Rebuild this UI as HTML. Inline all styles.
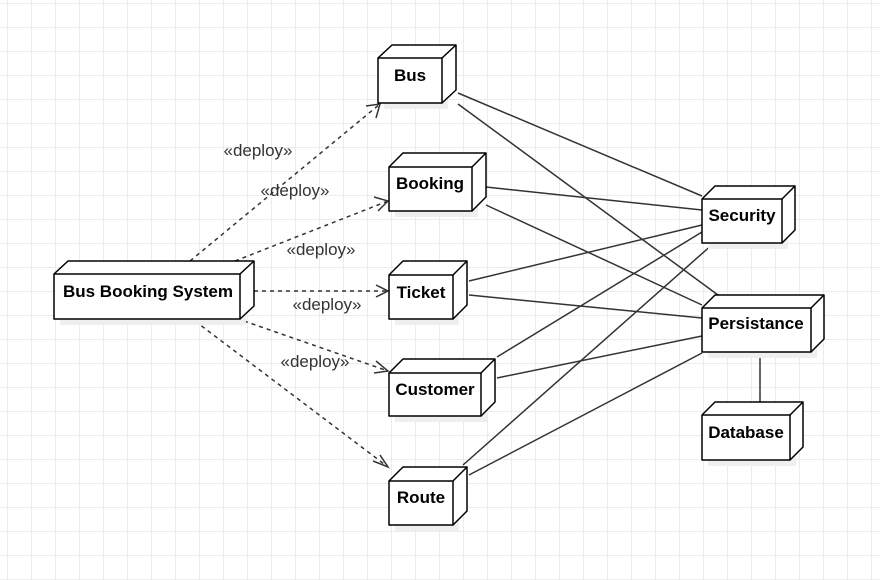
<!DOCTYPE html>
<html><head><meta charset="utf-8"><style>
html,body{margin:0;padding:0;background:#fff}
svg{display:block}
text{font-family:"Liberation Sans",Arial,sans-serif}
</style></head><body>
<svg width="880" height="580" xmlns="http://www.w3.org/2000/svg">
<defs>
<pattern id="g" x="7" y="3" width="24" height="24" patternUnits="userSpaceOnUse">
<path d="M0 0H24M0 0V24" stroke="#e6e6e6" stroke-width="1.5" fill="none"/>
</pattern>
</defs>
<rect width="880" height="580" fill="url(#g)"/>

<g stroke="#333" stroke-width="1.5" fill="none">
<line x1="458" y1="93" x2="702" y2="196"/>
<line x1="458" y1="104" x2="718" y2="295"/>
<line x1="486" y1="187" x2="702" y2="210"/>
<line x1="486" y1="205" x2="702" y2="305"/>
<line x1="469" y1="281" x2="702" y2="225"/>
<line x1="469" y1="295" x2="702" y2="318"/>
<line x1="497" y1="357" x2="702" y2="232"/>
<line x1="497" y1="378" x2="702" y2="336"/>
<line x1="463" y1="465" x2="714" y2="243"/>
<line x1="469" y1="475" x2="702" y2="353"/>
<line x1="760" y1="352" x2="760" y2="402"/>
</g>

<g stroke="#333" stroke-width="1.5" fill="none" stroke-dasharray="4 4">
<line x1="190" y1="261" x2="380" y2="104"/>
<line x1="235" y1="261" x2="388" y2="201"/>
<line x1="254" y1="291" x2="388" y2="291"/>
<line x1="244" y1="321" x2="388" y2="371"/>
<line x1="195" y1="321" x2="388" y2="467"/>
</g>
<g stroke="#333" stroke-width="1.5" fill="none">
<polyline points="366,106 380,104 376,118"/>
<polyline points="374,197 388,201 378,211"/>
<polyline points="376,285 388,291 376,297"/>
<polyline points="376,361 388,371 374,373"/>
<polyline points="373,461 388,467 380,455"/>
</g>
<g font-size="17" fill="#333" text-anchor="middle">
<text x="258" y="156">«deploy»</text>
<text x="295" y="196">«deploy»</text>
<text x="321" y="255">«deploy»</text>
<text x="327" y="310">«deploy»</text>
<text x="315" y="367">«deploy»</text>
</g>

<g stroke="#000" stroke-width="1.5" fill="#fff" stroke-linejoin="round">
<rect x="384" y="64" width="64" height="45" fill="#efefef" stroke="none"/>
<path d="M378 58 L392 45 H456 V90 L442 103"/><path d="M442 58 L456 45"/>
<rect x="378" y="58" width="64" height="45"/>
<rect x="395" y="173" width="83" height="44" fill="#efefef" stroke="none"/>
<path d="M389 167 L403 153 H486 V197 L472 211"/><path d="M472 167 L486 153"/>
<rect x="389" y="167" width="83" height="44"/>
<rect x="395" y="281" width="64" height="44" fill="#efefef" stroke="none"/>
<path d="M389 275 L403 261 H467 V305 L453 319"/><path d="M453 275 L467 261"/>
<rect x="389" y="275" width="64" height="44"/>
<rect x="395" y="379" width="92" height="43" fill="#efefef" stroke="none"/>
<path d="M389 373 L403 359 H495 V402 L481 416"/><path d="M481 373 L495 359"/>
<rect x="389" y="373" width="92" height="43"/>
<rect x="395" y="487" width="64" height="44" fill="#efefef" stroke="none"/>
<path d="M389 481 L403 467 H467 V511 L453 525"/><path d="M453 481 L467 467"/>
<rect x="389" y="481" width="64" height="44"/>
<rect x="60" y="280" width="186" height="45" fill="#efefef" stroke="none"/>
<path d="M54 274 L68 261 H254 V306 L240 319"/><path d="M240 274 L254 261"/>
<rect x="54" y="274" width="186" height="45"/>
<rect x="708" y="205" width="80" height="44" fill="#efefef" stroke="none"/>
<path d="M702 199 L715 186 H795 V230 L782 243"/><path d="M782 199 L795 186"/>
<rect x="702" y="199" width="80" height="44"/>
<rect x="708" y="314" width="109" height="44" fill="#efefef" stroke="none"/>
<path d="M702 308 L715 295 H824 V339 L811 352"/><path d="M811 308 L824 295"/>
<rect x="702" y="308" width="109" height="44"/>
<rect x="708" y="421" width="88" height="45" fill="#efefef" stroke="none"/>
<path d="M702 415 L715 402 H803 V447 L790 460"/><path d="M790 415 L803 402"/>
<rect x="702" y="415" width="88" height="45"/>
</g>
<g font-size="17" font-weight="bold" fill="#000" text-anchor="middle">
<text x="410" y="81">Bus</text>
<text x="430" y="189">Booking</text>
<text x="421" y="298">Ticket</text>
<text x="435" y="395">Customer</text>
<text x="421" y="503">Route</text>
<text x="148" y="297">Bus Booking System</text>
<text x="742" y="221">Security</text>
<text x="756" y="329">Persistance</text>
<text x="746" y="438">Database</text>
</g>
</svg>
</body></html>
